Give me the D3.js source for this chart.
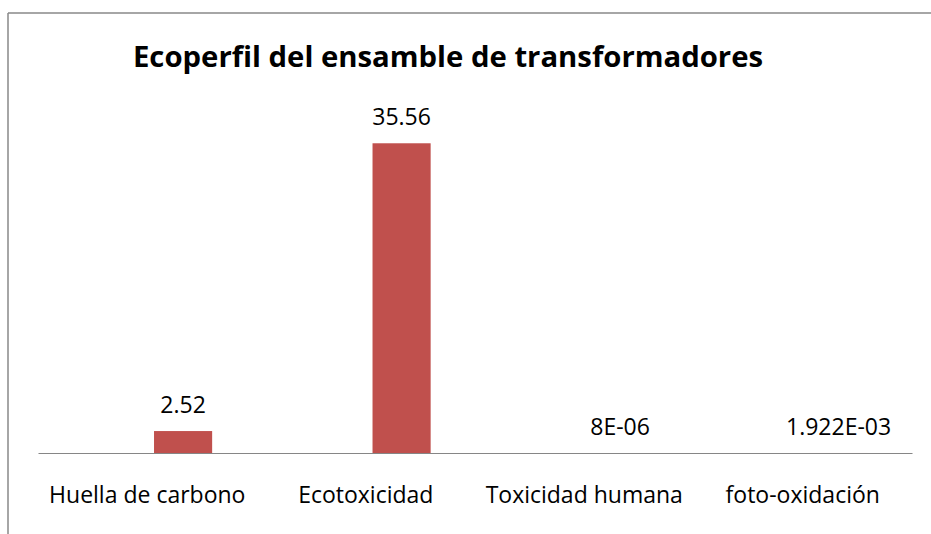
<!DOCTYPE html>
<html lang="es">
<head>
<meta charset="UTF-8">
<title>Ecoperfil del ensamble de transformadores</title>
<script src="https://d3js.org/d3.v7.min.js"></script>
<style>
  body { margin: 0; background: #fff; }
  svg { display: block; font-family: "Open Sans", sans-serif; }
</style>
</head>
<body>
<svg width="931" height="534"></svg>
<script>
  // data
  const categories = ['Huella de carbono', 'Ecotoxicidad', 'Toxicidad humana', 'foto-oxidación'];
  const values = [2.52, 35.56, 0.000008, 0.001922];
  const valueLabels = ['2.52', '35.56', '8E-06', '1.922E-03'];
  const title = 'Ecoperfil del ensamble de transformadores';

  const svg = d3.select('svg');

  const plotLeft = 38, plotRight = 912, plotTop = 104.6, plotBottom = 453;

  // chart frame (only top and left edges show)
  svg.append('line')
    .attr('x1', 8).attr('y1', 13).attr('x2', 931).attr('y2', 13)
    .attr('stroke', '#898989').attr('stroke-width', 1.5);
  svg.append('line')
    .attr('x1', 8).attr('y1', 13).attr('x2', 8).attr('y2', 534)
    .attr('stroke', '#898989').attr('stroke-width', 1.5);

  const x = d3.scaleBand()
    .domain(categories)
    .range([plotLeft, plotRight])
    .padding(0);

  const y = d3.scaleLinear()
    .domain([0, 40])
    .range([plotBottom, plotTop]);

  // bars sit right of the band centre, like the original
  const barStart = 0.531, barWidth = 0.266;

  const data = categories.map((c, i) => ({ cat: c, value: values[i], label: valueLabels[i] }));

  svg.selectAll('rect.bar')
    .data(data)
    .enter()
    .append('rect')
    .attr('class', 'bar')
    .attr('x', d => x(d.cat) + x.bandwidth() * barStart)
    .attr('y', d => y(d.value))
    .attr('width', x.bandwidth() * barWidth)
    .attr('height', d => y(0) - y(d.value))
    .attr('fill', '#C0504D');

  svg.selectAll('text.value')
    .data(data)
    .enter()
    .append('text')
    .attr('class', 'value')
    .attr('x', d => x(d.cat) + x.bandwidth() * (barStart + barWidth / 2))
    .attr('y', d => y(d.value) - 18)
    .attr('text-anchor', 'middle')
    .attr('font-size', 23)
    .attr('fill', '#000')
    .text(d => d.label);

  // category axis
  const xAxis = svg.append('g')
    .attr('transform', `translate(0, ${plotBottom})`)
    .call(d3.axisBottom(x).tickSize(0).tickPadding(33.5));
  xAxis.select('.domain').attr('stroke', '#868686').attr('stroke-width', 1.2);
  xAxis.selectAll('text')
    .attr('font-family', '"Open Sans", sans-serif')
    .attr('font-size', 23)
    .attr('fill', '#000');

  svg.append('text')
    .attr('x', 448)
    .attr('y', 67)
    .attr('text-anchor', 'middle')
    .attr('font-size', 29.3)
    .attr('font-weight', 'bold')
    .attr('fill', '#000')
    .text(title);
</script>
</body>
</html>
